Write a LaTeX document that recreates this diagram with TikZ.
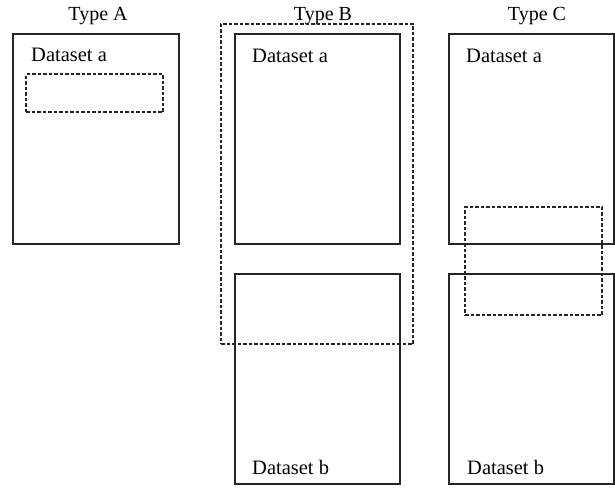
\documentclass[tikz,border=0pt]{standalone}
\usepackage{fontspec}
\setmainfont{Liberation Serif}
\tikzset{
  dsbox/.style={draw=black!85, line width=1.6pt, anchor=north west, inner sep=0pt, outer sep=0pt},
  selbox/.style={draw=black!85, line width=1.8pt, dash pattern=on 3.5pt off 2pt, anchor=north west, inner sep=0pt, outer sep=0pt},
  lbl/.style={font=\fontsize{20.5}{23}\selectfont, anchor=base west, inner sep=0pt},
  ttl/.style={font=\fontsize{20}{23}\selectfont, anchor=base, inner sep=0pt}
}
\begin{document}
\begin{tikzpicture}[x=1pt,y=-1pt]
\useasboundingbox (0,0) rectangle (615,487);
% Type A
\node[ttl] (tA) at (98,21) {Type A};
\node[dsbox, minimum width=166pt, minimum height=210pt] (Aa) at (13,34) {};
\node[lbl] (Aal) at (31,62) {Dataset a};
\node[selbox, minimum width=137pt, minimum height=38pt] (Asel) at (26,74) {};
% Type B
\node[ttl] (tB) at (323,21) {Type B};
\node[dsbox, minimum width=165pt, minimum height=210pt] (Ba) at (235,34) {};
\node[dsbox, minimum width=165pt, minimum height=210pt] (Bb) at (235,274) {};
\node[lbl] (Bal) at (252,63) {Dataset a};
\node[lbl] (Bbl) at (252,474) {Dataset b};
\node[selbox, minimum width=192pt, minimum height=320pt] (Bsel) at (221,24) {};
% Type C
\node[ttl] (tC) at (537,21) {Type C};
\node[dsbox, minimum width=165pt, minimum height=210pt] (Ca) at (449,34) {};
\node[dsbox, minimum width=165pt, minimum height=210pt] (Cb) at (449,274) {};
\node[lbl] (Cal) at (466,63) {Dataset a};
\node[lbl] (Cbl) at (467,474) {Dataset b};
\node[selbox, minimum width=137pt, minimum height=108pt] (Csel) at (465,207) {};
\end{tikzpicture}
\end{document}
